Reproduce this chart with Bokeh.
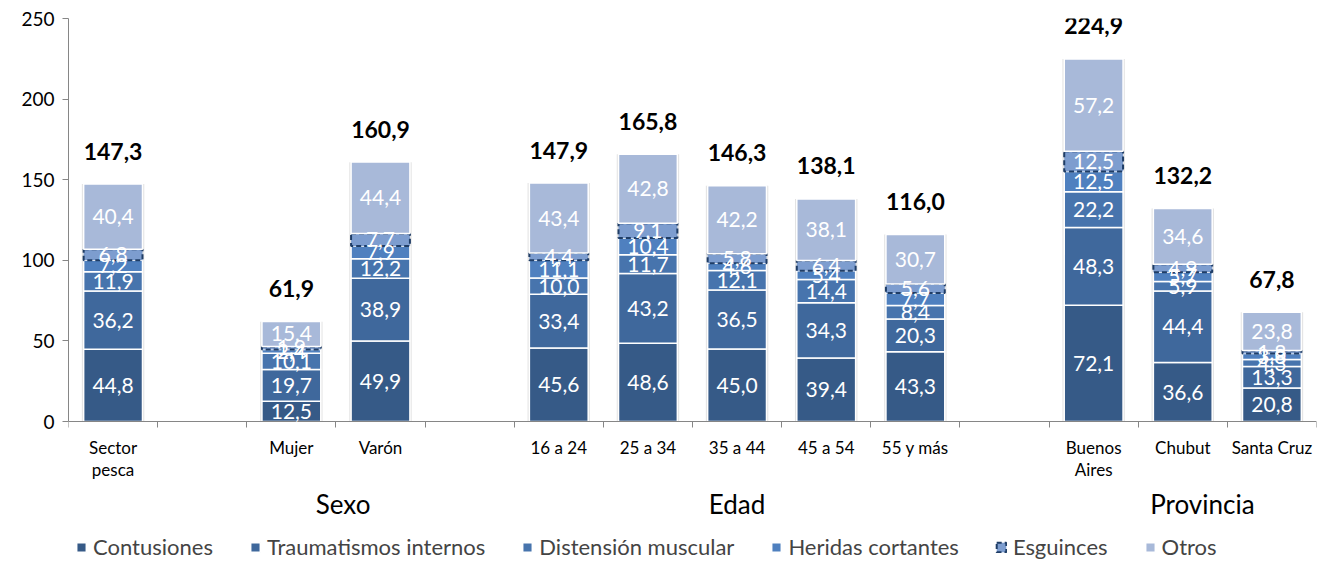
from bokeh.plotting import figure
from bokeh.models import (Range1d, FixedTicker, ColumnDataSource, LabelSet, Legend,
                          LegendItem, LinearAxis)
from bokeh.embed import file_html
from bokeh.resources import INLINE
from bokeh.core.properties import value

# ---- data ----
categories = ["Sector pesca", "Mujer", "Varón", "16 a 24", "25 a 34", "35 a 44",
              "45 a 54", "55 y más", "Buenos Aires", "Chubut", "Santa Cruz"]
cat_line1 = ["Sector", "Mujer", "Varón", "16 a 24", "25 a 34", "35 a 44",
             "45 a 54", "55 y más", "Buenos", "Chubut", "Santa Cruz"]
cat_line2 = ["pesca", "", "", "", "", "", "", "", "Aires", "", ""]
slots = [0, 2, 3, 5, 6, 7, 8, 9, 11, 12, 13]
series = ["Contusiones", "Traumatismos internos", "Distensión muscular",
          "Heridas cortantes", "Esguinces", "Otros"]
contusiones = [44.8, 12.5, 49.9, 45.6, 48.6, 45.0, 39.4, 43.3, 72.1, 36.6, 20.8]
traumatismos = [36.2, 19.7, 38.9, 33.4, 43.2, 36.5, 34.3, 20.3, 48.3, 44.4, 13.3]
distension = [11.9, 10.1, 12.2, 10.0, 11.7, 12.1, 14.4, 8.4, 22.2, 5.9, 4.3]
heridas = [7.2, 2.4, 7.9, 11.1, 10.4, 4.6, 5.4, 7.7, 12.5, 5.7, 3.8]
esguinces = [6.8, 1.9, 7.7, 4.4, 9.1, 5.8, 6.4, 5.6, 12.5, 4.9, 1.8]
otros = [40.4, 15.4, 44.4, 43.4, 42.8, 42.2, 38.1, 30.7, 57.2, 34.6, 23.8]
totales = [147.3, 61.9, 160.9, 147.9, 165.8, 146.3, 138.1, 116.0, 224.9, 132.2, 67.8]
groups = ["Sexo", "Edad", "Provincia"]
group_pos = [2.58, 7.0, 12.22]
y_ticks = [0, 50, 100, 150, 200, 250]

colors = ["#365a87", "#3f689c", "#4774ad", "#4f80bf", "#7d9dcf", "#a8b9d9"]
FONT = "Lato"
AXIS_GRAY = "#868686"

# plot geometry: value axis 0..250 over 403 px, extra room below for labels/legend
PX_PER_UNIT = 403 / 250
Y_BELOW = 140 / PX_PER_UNIT

def fmt(v):
    return f"{v:.1f}".replace(".", ",")

values = [contusiones, traumatismos, distension, heridas, esguinces, otros]
data = {"x": slots, "total": totales, "tot_lbl": [fmt(t) for t in totales],
        "c1": cat_line1, "c2": cat_line2, "zero": [0] * len(slots)}
for name, vals in zip(series, values):
    data[name] = vals
source = ColumnDataSource(data)

# label positions for segments
lx, ly, lt = [], [], []
for i, s in enumerate(slots):
    base = 0.0
    for vals in values:
        v = vals[i]
        lx.append(s)
        ly.append(base + v / 2)
        lt.append(fmt(v))
        base += v
seg_src = ColumnDataSource({"x": lx, "y": ly, "t": lt})

p = figure(frame_width=1248, frame_height=543,
           x_range=Range1d(-0.5, 13.5), y_range=Range1d(-Y_BELOW, 250),
           output_backend="svg", toolbar_location=None, x_axis_location=None,
           min_border_left=68, min_border_right=4, min_border_top=18, min_border_bottom=0)
p.outline_line_color = None
p.xgrid.grid_line_color = None
p.ygrid.grid_line_color = None
p.background_fill_color = "white"

# subtle shadow behind bars
p.vbar(x="x", top="total", width=0.70, source=source, fill_color="#cccccc",
       fill_alpha=0.55, line_color=None)

renderers = p.vbar_stack(series, x="x", width=0.66, source=source, color=colors,
                         line_color="white", line_width=1.5)
eg = renderers[4].glyph
eg.line_color = "#1f3d66"
eg.line_dash = "5 3"
eg.line_width = 2

# category axis line at y = 0, tick marks at slot boundaries (pointing down)
ax = LinearAxis(ticker=FixedTicker(ticks=[], minor_ticks=[-0.5 + i for i in range(15)]),
                fixed_location=0)
ax.axis_line_color = AXIS_GRAY
ax.major_tick_line_color = None
ax.minor_tick_line_color = AXIS_GRAY
ax.minor_tick_in = 6
ax.minor_tick_out = 0
ax.major_tick_in = 0
ax.major_tick_out = 0
p.add_layout(ax, "above")

ay = p.yaxis[0]
ay.ticker = FixedTicker(ticks=y_ticks)
ay.bounds = (0, 250)
ay.major_label_text_font = FONT
ay.major_label_text_font_size = "19px"
ay.major_label_text_color = "black"
ay.axis_line_color = AXIS_GRAY
ay.major_tick_line_color = AXIS_GRAY
ay.major_tick_out = 6
ay.major_tick_in = 0
ay.minor_tick_line_color = None
ay.major_label_standoff = 8

# category labels (two centred lines)
p.add_layout(LabelSet(x="x", y="zero", text="c1", source=source, y_offset=-15,
                      text_align="center", text_baseline="top", text_color="black",
                      text_font=value(FONT), text_font_size="17px"))
p.add_layout(LabelSet(x="x", y="zero", text="c2", source=source, y_offset=-37,
                      text_align="center", text_baseline="top", text_color="black",
                      text_font=value(FONT), text_font_size="17px"))
# group labels
grp_src = ColumnDataSource({"x": group_pos, "y": [0] * len(groups), "t": groups})
p.add_layout(LabelSet(x="x", y="y", text="t", source=grp_src, y_offset=-82,
                      text_align="center", text_baseline="middle", text_color="black",
                      text_font=value(FONT), text_font_size="26px"))

# segment labels
p.add_layout(LabelSet(x="x", y="y", text="t", source=seg_src, text_align="center",
                      text_baseline="middle", text_color="white",
                      text_font=value(FONT), text_font_size="21px"))
# total labels
p.add_layout(LabelSet(x="x", y="total", text="tot_lbl", source=source, y_offset=33,
                      text_align="center", text_baseline="middle", text_color="black",
                      text_font=value(FONT), text_font_size="23px", text_font_style="bold"))

legend = Legend(items=[LegendItem(label=n, renderers=[r]) for n, r in zip(series, renderers)],
                location=(7, 1), orientation="horizontal")
legend.label_text_font = FONT
legend.label_text_font_size = "22px"
legend.glyph_width = 12
legend.glyph_height = 12
legend.label_standoff = 6
legend.spacing = 36
legend.padding = 0
legend.margin = 0
legend.border_line_color = None
legend.background_fill_alpha = 0
p.add_layout(legend, "center")

open("out.html", "w").write(file_html(p, INLINE))
